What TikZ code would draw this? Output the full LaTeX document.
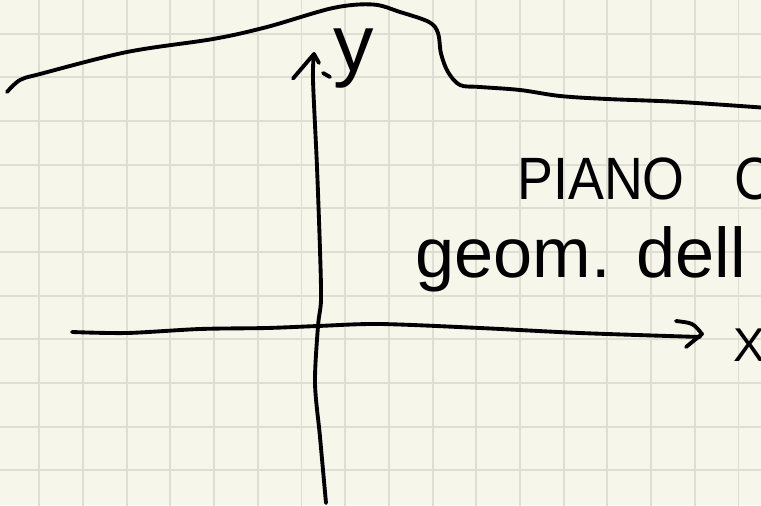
\documentclass[tikz,border=0pt]{standalone}
\usepackage{graphicx}
\usepackage{fontspec}
\usepackage{tikz}
\newfontfamily\notefont{Liberation Sans}
\definecolor{paper}{RGB}{247,246,235}
\definecolor{gridgray}{RGB}{223,222,210}

\begin{document}
\begin{tikzpicture}[
    pen/.style={line width=2.2pt, line cap=round, line join=round, black},
    gridline/.style={line width=1.1pt, gridgray},
    scritta/.style={inner sep=0pt, black}
  ]
            % foglio
            \path[use as bounding box, fill=paper] (-6.36,-3.58) rectangle (8.86,6.52);
            \clip (-6.36,-3.58) rectangle (8.86,6.52);

            % quadretti
            \foreach \i in {0,...,16}
              \draw[gridline] ({-5.574+0.874*\i},-3.7) -- ({-5.574+0.874*\i},6.7);
            \foreach \j in {0,...,10}
              \draw[gridline] (-6.5,{5.846-0.873*\j}) -- (9,{5.846-0.873*\j});

            % curva in alto
            \draw[pen] plot[smooth, tension=0.55] coordinates {(-6.22,4.68) (-5.96,4.92) (-5.56,5.04) (-3.82,5.48) (-2.10,5.74) (-1.02,5.98) (0.30,6.36) (1.10,6.43) (1.64,6.28) (2.22,6.08) (2.40,5.86) (2.46,5.45) (2.60,5.08) (2.84,4.82) (3.24,4.78) (4.04,4.72) (4.84,4.60) (5.78,4.54) (7.24,4.48) (9.0,4.36)};

            % asse y
            \draw[pen] plot[smooth] coordinates {(0.16,-3.54) (0.04,-2.22) (-0.06,-1.14) (0,0) (0.06,0.52) (0.04,1.52) (-0.02,3.18) (-0.10,4.92) (-0.08,5.44)};
            \draw[pen] (-0.50,4.95) .. controls (-0.30,5.20) .. (-0.08,5.44) -- (0.02,5.26);
            \draw[pen] (0.10,5.06) -- (0.24,4.98);

            % asse x
            \draw[pen] plot[smooth] coordinates {(-4.92,-0.12) (-3.82,-0.14) (-2.36,-0.06) (-1.02,-0.04) (0,0) (1.24,0.04) (3.24,-0.04) (5.24,-0.14) (7.64,-0.22)};
            \draw[pen] (7.16,0.10) .. controls (7.50,0.06) .. (7.68,-0.16) -- (7.36,-0.42);

            % etichette assi
            \node[scritta, anchor=base, font=\notefont\fontsize{46}{48}\selectfont] (ylab) at (0.72,5.08) {y};
            \node[scritta, font=\notefont\fontsize{27}{30}\selectfont] (xlab) at (8.62,-0.38) {X};

            % testo a destra
            \node[scritta, anchor=base west, font=\notefont\fontsize{34}{36}\selectfont] (titolo) at (3.98,2.54) {\scalebox{0.9}[1]{PIANO\hspace{1.1cm}C}};
            \node[scritta, anchor=base west, font=\notefont\fontsize{40}{44}\selectfont] (sottotitolo) at (1.94,0.98) {geom. dell};
\end{tikzpicture}
\end{document}
